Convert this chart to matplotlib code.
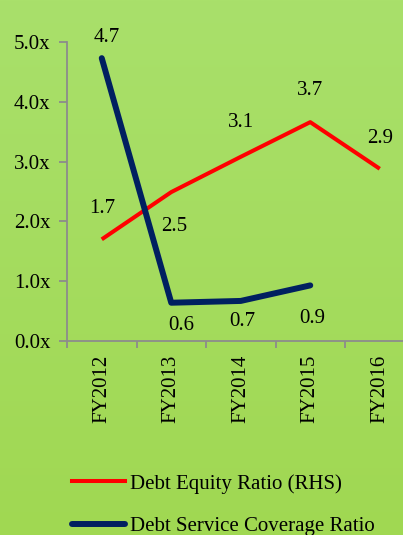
import matplotlib
matplotlib.use("Agg")
import matplotlib.pyplot as plt
import numpy as np
from matplotlib.lines import Line2D

categories = ["FY2012", "FY2013", "FY2014", "FY2015", "FY2016"]
debt_equity = [1.70, 2.49, 3.08, 3.66, 2.88]
dscr = [4.73, 0.64, 0.67, 0.93]
yticks = [0.0, 1.0, 2.0, 3.0, 4.0, 5.0]

# label offsets (points)
de_off = [(0.7, 22), (2, -24.5), (0, 24.5), (0, 23), (0, 22)]
ds_off = [(3.6, 15), (7, -16.5), (1.4, -15), (1.4, -24)]

plt.rcParams['font.family'] = ['Liberation Serif', 'DejaVu Serif']
FS = 15

W, H = 403, 535
fig = plt.figure(figsize=(W / 100, H / 100), dpi=100)

# gradient background
bg = fig.add_axes([0, 0, 1, 1], zorder=-10)
grad = np.linspace(0, 1, 256).reshape(-1, 1)
top = np.array([169, 224, 107]) / 255
bot = np.array([160, 216, 82]) / 255
img = top[None, None, :] * (1 - grad[:, :, None]) + bot[None, None, :] * grad[:, :, None]
bg.imshow(img, aspect='auto', extent=[0, 1, 0, 1])
bg.axis('off')

left = 67 / W
right = 414.5 / W
bottom = 1 - 341 / H
topp = 1 - 42 / H
ax = fig.add_axes([left, bottom, right - left, topp - bottom])
ax.patch.set_alpha(0)

x = np.arange(len(categories))
navy = '#002060'
red = '#FF0000'
ax.plot(x[:len(debt_equity)], debt_equity, color=red, lw=2.9, solid_capstyle='butt', zorder=3)
ax.plot(x[:len(dscr)], dscr, color=navy, lw=4.3, solid_capstyle='round', solid_joinstyle='round', zorder=4)

for i, v in enumerate(debt_equity):
    ax.annotate(f"{v:.1f}", (x[i], v), xytext=de_off[i], textcoords='offset points',
                ha='center', va='center', fontsize=FS, color='black')
for i, v in enumerate(dscr):
    ax.annotate(f"{v:.1f}", (x[i], v), xytext=ds_off[i], textcoords='offset points',
                ha='center', va='center', fontsize=FS, color='black')

ax.set_xlim(-0.5, len(categories) - 0.5)
ax.set_ylim(0, 5)
ax.set_yticks(yticks)
ax.set_yticklabels([f"{t:.1f}x" for t in yticks], fontsize=FS)
ax.set_xticks(np.arange(-0.5, len(categories), 1.0))
ax.set_xticklabels([])
ax.set_xticks(x, minor=True)
ax.set_xticklabels(categories, minor=True, rotation=90, fontsize=FS)
ax.tick_params(axis='x', which='minor', length=0, pad=10)
ax.tick_params(axis='x', which='major', length=5, color='#8c8c8c', width=1.3, direction='out')
ax.tick_params(axis='y', length=6, color='#8c8c8c', width=1.3, direction='out', pad=6)

for s in ['top', 'right']:
    ax.spines[s].set_visible(False)
for s in ['left', 'bottom']:
    ax.spines[s].set_color('#8c8c8c')
    ax.spines[s].set_linewidth(1.3)

handles = [Line2D([], [], color=red, lw=2.9),
           Line2D([], [], color=navy, lw=4.3, solid_capstyle='round')]
fig.legend(handles, ["Debt Equity Ratio (RHS)", "Debt Service Coverage Ratio"],
           loc='upper left', bbox_to_anchor=(72 / W, 1 - 474 / H), frameon=False,
           fontsize=FS, handlelength=2.55, handletextpad=0.25, labelspacing=1.1,
           borderpad=0, borderaxespad=0)

fig.savefig("out.png", dpi=100)
